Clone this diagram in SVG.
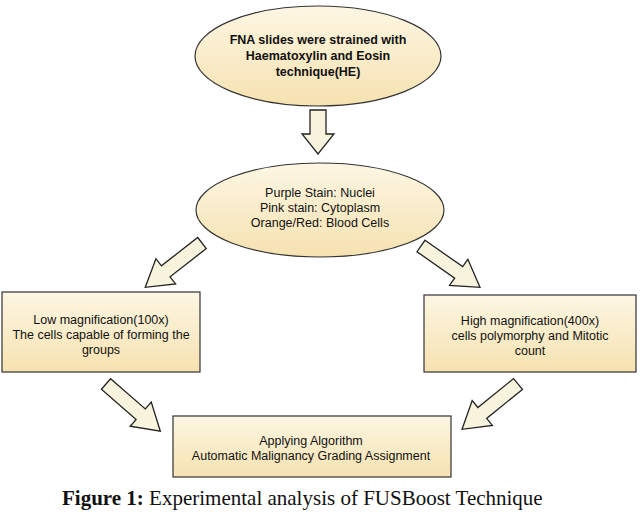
<svg xmlns="http://www.w3.org/2000/svg" width="640" height="512" viewBox="0 0 640 512">
<style>
.n{fill:url(#g);stroke:#333;stroke-width:1.2}
.t{font-family:"Liberation Sans",Arial,sans-serif;font-size:12.5px;fill:#111;text-anchor:middle}
.a{fill:#f8f3dc;stroke:#222;stroke-width:1.3;stroke-linejoin:miter}
</style>
<defs>
<linearGradient id="g" x1="0" y1="0" x2="0" y2="1"><stop offset="0" stop-color="#fdf6e3"/><stop offset="1" stop-color="#f6e2b0"/></linearGradient>
<path id="ar" d="M0,-7 L46,-7 L46,-16 L72,0 L46,16 L46,7 L0,7 Z"/>
</defs>
<rect width="640" height="512" fill="#fff"/>
<g id="n1"><ellipse class="n" cx="318" cy="56" rx="123" ry="50"/>
<text class="t" x="318" y="44" font-weight="bold">FNA slides were strained with</text>
<text class="t" x="318" y="60" font-weight="bold">Haematoxylin and Eosin</text>
<text class="t" x="318" y="76" font-weight="bold">technique(HE)</text></g>
<g id="n2"><ellipse class="n" cx="320" cy="210" rx="124" ry="47"/>
<text class="t" x="320" y="197">Purple Stain: Nuclei</text>
<text class="t" x="320" y="212">Pink stain: Cytoplasm</text>
<text class="t" x="320" y="227">Orange/Red: Blood Cells</text></g>
<g id="n3"><rect class="n" x="2" y="292" width="198" height="80"/>
<text class="t" x="101" y="324">Low magnification(100x)</text>
<text class="t" x="101" y="339">The cells capable of forming the</text>
<text class="t" x="101" y="354">groups</text></g>
<g id="n4"><rect class="n" x="424" y="295" width="212" height="77"/>
<text class="t" x="530" y="325">High magnification(400x)</text>
<text class="t" x="530" y="340">cells polymorphy and Mitotic</text>
<text class="t" x="530" y="355">count</text></g>
<g id="n5"><rect class="n" x="173" y="416" width="278" height="61"/>
<text class="t" x="311" y="445">Applying Algorithm</text>
<text class="t" x="311" y="460">Automatic Malignancy Grading Assignment</text></g>
<g id="connectors">
<path class="a" d="M310,110 L326,110 L326,134 L334,134 L318,154 L302,134 L310,134 Z"/>
<use href="#ar" class="a" transform="translate(202,243) rotate(142)"/>
<use href="#ar" class="a" transform="translate(421,246) rotate(35)"/>
<use href="#ar" class="a" transform="translate(106,384) rotate(41)"/>
<use href="#ar" class="a" transform="translate(518,384) rotate(141)"/>
</g>
<text x="62" y="505" font-family="Liberation Serif,serif" font-size="21" fill="#111"><tspan font-weight="bold">Figure 1:</tspan> Experimental analysis of FUSBoost Technique</text>
</svg>
